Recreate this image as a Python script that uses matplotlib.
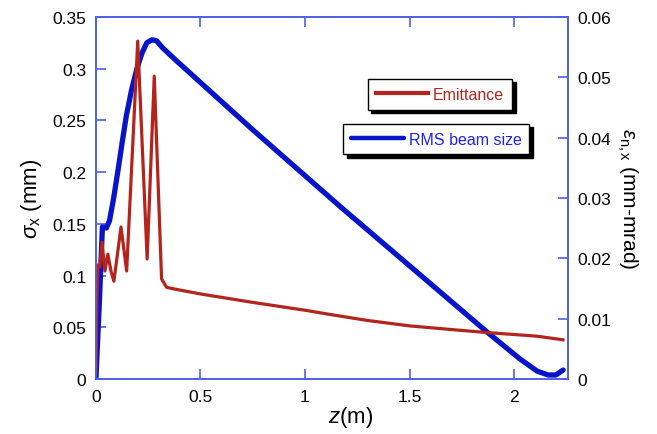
import matplotlib
matplotlib.use('Agg')
import matplotlib.pyplot as plt

plt.rcParams['font.family'] = ['Liberation Sans', 'DejaVu Sans']
plt.rcParams['mathtext.fontset'] = 'custom'
plt.rcParams['mathtext.rm'] = 'Liberation Sans'
plt.rcParams['mathtext.it'] = 'Liberation Sans:italic'

# RMS beam size (left axis, mm)
z_size = [0.0, 0.017, 0.031, 0.050, 0.065, 0.084, 0.105, 0.125, 0.145, 0.171,
          0.196, 0.220, 0.243, 0.268, 0.290, 0.320, 0.378, 0.75, 1.167, 1.871,
          2.029, 2.11, 2.163, 2.20, 2.235]
sigma_x = [0.0, 0.077, 0.147, 0.146, 0.153, 0.174, 0.201, 0.228, 0.254, 0.280,
           0.300, 0.315, 0.325, 0.328, 0.327, 0.320, 0.309, 0.241, 0.167,
           0.0454, 0.0193, 0.0077, 0.0039, 0.0039, 0.0087]

# Emittance (right axis, mm-mrad)
z_emit = [0.0, 0.005, 0.010, 0.019, 0.029, 0.043, 0.057, 0.072, 0.086, 0.120,
          0.147, 0.200, 0.245, 0.279, 0.314, 0.338, 0.378, 0.5, 0.75, 1.0,
          1.12, 1.3, 1.502, 1.7, 1.871, 2.11, 2.234]
emit = [0.0013, 0.0133, 0.0189, 0.0186, 0.0227, 0.0179, 0.0207, 0.0179, 0.0162,
        0.0252, 0.0179, 0.0560, 0.0199, 0.0502, 0.0166, 0.0152, 0.0149, 0.0141,
        0.0127, 0.0114, 0.0107, 0.0097, 0.0088, 0.0082, 0.0077, 0.0071, 0.0065]

spine_col = '#4f5fe6'
blue = '#0714c9'
red = '#b3241c'

fig = plt.figure(figsize=(6.57, 4.35), dpi=100)
ax = fig.add_axes([0.146, 0.1264, 0.7185, 0.8322])
ax2 = ax.twinx()

line_b, = ax.plot(z_size, sigma_x, color=blue, lw=3.8, solid_capstyle='round',
                  solid_joinstyle='round', label='RMS beam size')
line_r, = ax2.plot(z_emit, emit, color=red, lw=2.3, solid_joinstyle='round',
                   label='Emittance')

ax.set_xlim(0, 2.258)
ax.set_ylim(0, 0.35)
ax2.set_ylim(0, 0.06)
ax.set_xticks([0, 0.5, 1, 1.5, 2])
ax.set_xticklabels(['0', '0.5', '1', '1.5', '2'])
ax.set_yticks([0, 0.05, 0.1, 0.15, 0.2, 0.25, 0.3, 0.35])
ax.set_yticklabels(['0', '0.05', '0.1', '0.15', '0.2', '0.25', '0.3', '0.35'])
ax2.set_yticks([0, 0.01, 0.02, 0.03, 0.04, 0.05, 0.06])
ax2.set_yticklabels(['0', '0.01', '0.02', '0.03', '0.04', '0.05', '0.06'])

for a in (ax, ax2):
    for s in a.spines.values():
        s.set_color(spine_col)
        s.set_linewidth(1.2)
ax.tick_params(axis='x', direction='in', top=True, length=7, width=1.2,
               color=spine_col, labelsize=12.5, pad=7)
ax.tick_params(axis='y', direction='in', length=7, width=1.2,
               color=spine_col, labelsize=12.5, pad=7)
ax2.tick_params(axis='y', direction='in', length=7, width=1.2,
                color=spine_col, labelsize=12.5, pad=7)

ax.set_xlabel('$z$(m)', fontsize=16)
ax.xaxis.set_label_coords(0.54, -0.068)
ax.set_ylabel(r'$\sigma_{\rm x}$ (mm)', fontsize=16, labelpad=6)
ax2.set_ylabel(r'$\varepsilon_{\rm n,x}$ (mm-mrad)', fontsize=15, rotation=270,
               labelpad=20)

shadow = {'color': 'black', 'alpha': 1.0, 'ox': 2.5, 'oy': -2.5}
leg1 = ax2.legend(handles=[line_r], loc='center', bbox_to_anchor=(0.729, 0.787),
                  fancybox=False, edgecolor='black', framealpha=1, shadow=shadow,
                  fontsize=11.5, handlelength=3.3, borderpad=0.5,
                  handletextpad=0.3, labelcolor=[red])
leg1.get_frame().set_linewidth(1.0)
leg1.get_lines()[0].set_linewidth(3)
ax2.add_artist(leg1)
leg2 = ax2.legend(handles=[line_b], loc='center', bbox_to_anchor=(0.721, 0.663),
                  fancybox=False, edgecolor='black', framealpha=1, shadow=shadow,
                  fontsize=11.5, handlelength=3.3, borderpad=0.5,
                  handletextpad=0.3, labelcolor=['#2222e6'])
leg2.get_frame().set_linewidth(1.0)
leg2.get_lines()[0].set_linewidth(3.2)

fig.savefig('out.png', dpi=100)
